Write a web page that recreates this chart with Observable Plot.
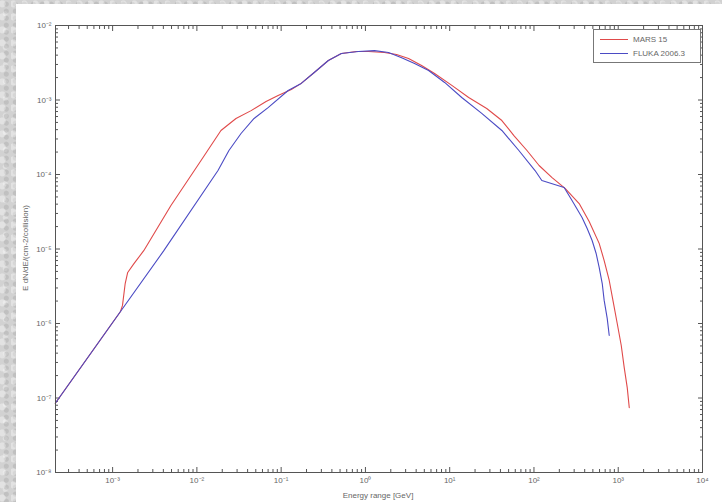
<!DOCTYPE html>
<html>
<head>
<meta charset="utf-8">
<script src="https://cdn.jsdelivr.net/npm/d3@7"></script>
<script src="https://cdn.jsdelivr.net/npm/@observablehq/plot@0.6"></script>
<style>
  html, body { margin: 0; padding: 0; }
  body {
    width: 722px; height: 502px; position: relative; overflow: hidden;
    background-color: #d2d2d2;
    background-image:
      radial-gradient(circle at 20% 30%, rgba(255,255,255,0.35) 0 3px, transparent 4px),
      radial-gradient(circle at 70% 60%, rgba(150,150,150,0.3) 0 2px, transparent 3px),
      radial-gradient(circle at 40% 80%, rgba(255,255,255,0.3) 0 2px, transparent 3px);
    background-size: 11px 13px, 9px 7px, 13px 17px;
    font-family: "Liberation Sans", Arial, sans-serif;
  }
  #chart { position: absolute; left: 16px; top: 4px; }
  .ylab {
    position: absolute; left: 25px; top: 248px;
    transform: translate(-50%, -50%) rotate(-90deg);
    font-size: 8px; color: #666; white-space: nowrap;
  }
  .xlab {
    position: absolute; left: 378px; top: 495px;
    transform: translate(-50%, -50%);
    font-size: 8px; color: #666; white-space: nowrap;
  }
  .legend {
    position: absolute; left: 593px; top: 29px; width: 106px; height: 32px;
    border: 1px solid #777; background: #fff; font-size: 8px; color: #666;
  }
  .legend .row { position: absolute; left: 6px; height: 10px; display: flex; align-items: center; }
  .legend .sw { width: 28px; height: 0; border-top: 1px solid; margin-right: 5px; }
</style>
</head>
<body>
<div id="chart"></div>
<div class="ylab">E dN/dE/(cm-2/collision)</div>
<div class="xlab">Energy range [GeV]</div>
<div class="legend" id="legend"></div>
<script>
// ---- data ----
const seriesNames = ["MARS 15", "FLUKA 2006.3"];
const seriesColors = ["#e04a4a", "#4b4bc4"];

const energyMars = [2.09e-4, 1.24e-3, 1.31e-3, 1.41e-3, 1.51e-3, 1.80e-3, 2.34e-3, 4.9e-3, 1.12e-2, 1.47e-2, 1.93e-2, 2.91e-2, 4.40e-2, 6.62e-2, 9.2e-2, 0.132, 0.173, 0.247, 0.363, 0.518, 0.782, 1.09, 1.68, 2.34, 3.25, 4.64, 6.62, 10.6, 16.8, 27.5, 41.6, 57.8, 82.6, 115, 164, 234, 344, 452, 594, 681, 782, 871, 973, 1086, 1178, 1279, 1352];
const fluxMars   = [8.5e-8, 1.45e-6, 1.75e-6, 3.44e-6, 4.84e-6, 6.4e-6, 9.5e-6, 3.8e-5, 1.54e-4, 2.45e-4, 3.9e-4, 5.65e-4, 7.2e-4, 9.55e-4, 1.15e-3, 1.38e-3, 1.67e-3, 2.34e-3, 3.39e-3, 4.2e-3, 4.48e-3, 4.48e-3, 4.35e-3, 4.08e-3, 3.6e-3, 2.9e-3, 2.27e-3, 1.57e-3, 1.08e-3, 7.7e-4, 5.3e-4, 3.33e-4, 2.1e-4, 1.32e-4, 9.1e-5, 6.5e-5, 4.08e-5, 2.34e-5, 1.19e-5, 7.0e-6, 3.78e-6, 1.97e-6, 1.0e-6, 5.07e-7, 2.56e-7, 1.38e-7, 7.4e-8];

const energyFluka = [2.09e-4, 1.24e-3, 4.05e-3, 1.78e-2, 2.40e-2, 3.34e-2, 4.77e-2, 7.0e-2, 0.121, 0.173, 0.247, 0.363, 0.518, 0.826, 1.28, 1.88, 2.69, 3.83, 5.62, 8.71, 13.9, 24.0, 41.6, 66.2, 103, 124, 228, 283, 372, 428, 490, 547, 594, 646, 681, 740, 782];
const fluxFluka   = [8.5e-8, 1.45e-6, 9.5e-6, 1.13e-4, 2.1e-4, 3.55e-4, 5.65e-4, 7.9e-4, 1.34e-3, 1.67e-3, 2.34e-3, 3.39e-3, 4.2e-3, 4.48e-3, 4.6e-3, 4.35e-3, 3.7e-3, 3.09e-3, 2.49e-3, 1.72e-3, 1.08e-3, 6.6e-4, 3.9e-4, 2.1e-4, 1.13e-4, 8.3e-5, 6.7e-5, 4.48e-5, 2.65e-5, 1.88e-5, 1.3e-5, 8.7e-6, 5.65e-6, 3.44e-6, 2.04e-6, 1.17e-6, 6.9e-7];

const xTickExponents = [-3, -2, -1, 0, 1, 2, 3, 4];
const yTickExponents = [-8, -7, -6, -5, -4, -3, -2];
const xDomain = [2.1e-4, 1e4];
const yDomain = [1e-8, 1e-2];

// ---- build ----
const rows = [
  ...energyMars.map((e, i) => ({series: seriesNames[0], e, f: fluxMars[i]})),
  ...energyFluka.map((e, i) => ({series: seriesNames[1], e, f: fluxFluka[i]}))
];
const xMajor = xTickExponents.map(k => Math.pow(10, k));
const yMajor = yTickExponents.map(k => Math.pow(10, k));
function minors(domain) {
  const out = [];
  for (let k = Math.floor(Math.log10(domain[0])); k < Math.ceil(Math.log10(domain[1])); k++)
    for (let m = 2; m <= 9; m++) {
      const v = m * Math.pow(10, k);
      if (v >= domain[0] && v <= domain[1]) out.push(v);
    }
  return out;
}
const xMinor = minors(xDomain);
const yMinor = minors(yDomain);
const sup = {"-": "\u207B", "0": "\u2070", "1": "\u00B9", "2": "\u00B2", "3": "\u00B3", "4": "\u2074", "5": "\u2075", "6": "\u2076", "7": "\u2077", "8": "\u2078", "9": "\u2079"};
const fmt = v => "10" + String(Math.round(Math.log10(v))).split("").map(c => sup[c]).join("");
const none = () => "";
const axisColor = "#555";

const plot = Plot.plot({
  width: 706,
  height: 498,
  marginLeft: 39,
  marginRight: 20,
  marginTop: 21,
  marginBottom: 30,
  style: {background: "white", fontFamily: "Liberation Sans, Arial, sans-serif", fontSize: "8px", color: "#666"},
  x: {type: "log", domain: xDomain, label: null},
  y: {type: "log", domain: yDomain, label: null},
  color: {domain: seriesNames, range: seriesColors},
  marks: [
    // minor ticks (inward, all four sides)
    Plot.axisX({anchor: "bottom", ticks: xMinor, tickSize: -3, tickFormat: none, stroke: axisColor, label: null}),
    Plot.axisX({anchor: "top", ticks: xMinor, tickSize: -3, tickFormat: none, stroke: axisColor, label: null}),
    Plot.axisY({anchor: "left", ticks: yMinor, tickSize: -3, tickFormat: none, stroke: axisColor, label: null}),
    Plot.axisY({anchor: "right", ticks: yMinor, tickSize: -3, tickFormat: none, stroke: axisColor, label: null}),
    // major ticks
    Plot.axisX({anchor: "bottom", ticks: xMajor, tickSize: -5, tickFormat: none, stroke: axisColor, label: null}),
    Plot.axisX({anchor: "top", ticks: xMajor, tickSize: -5, tickFormat: none, stroke: axisColor, label: null}),
    Plot.axisY({anchor: "left", ticks: yMajor, tickSize: -5, tickFormat: none, stroke: axisColor, label: null}),
    Plot.axisY({anchor: "right", ticks: yMajor, tickSize: -5, tickFormat: none, stroke: axisColor, label: null}),
    // labels
    Plot.axisX({anchor: "bottom", ticks: xMajor, tickSize: 0, tickPadding: 5, tickFormat: fmt, fill: "#666", label: null}),
    Plot.axisY({anchor: "left", ticks: yMajor, tickSize: 0, tickPadding: 4, tickFormat: fmt, fill: "#666", label: null}),
    Plot.line(rows, {x: "e", y: "f", z: "series", stroke: "series", strokeWidth: 1.1}),
    Plot.frame({stroke: axisColor, strokeWidth: 1})
  ]
});
document.getElementById("chart").appendChild(plot);

// legend
const lg = document.getElementById("legend");
seriesNames.forEach((name, i) => {
  const row = document.createElement("div");
  row.className = "row";
  row.style.top = (4 + i * 14) + "px";
  const sw = document.createElement("span");
  sw.className = "sw";
  sw.style.borderTopColor = seriesColors[i];
  const t = document.createElement("span");
  t.textContent = name;
  row.appendChild(sw);
  row.appendChild(t);
  lg.appendChild(row);
});
</script>
</body>
</html>
